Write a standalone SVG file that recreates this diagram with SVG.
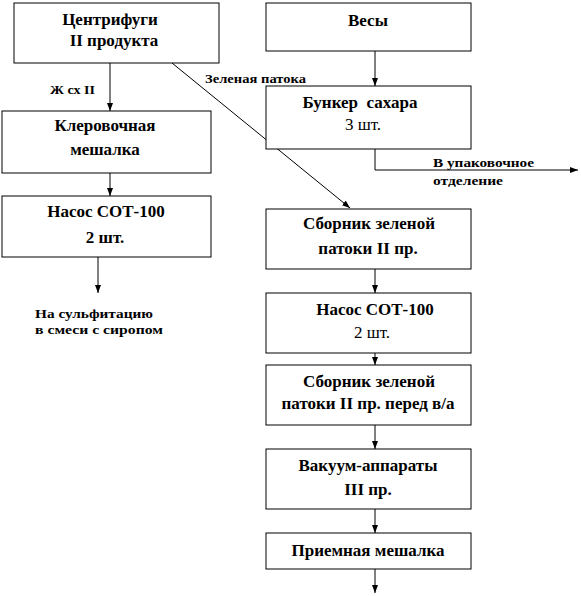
<svg xmlns="http://www.w3.org/2000/svg" width="581" height="596" viewBox="0 0 581 596">
<style>
rect.n{fill:#fff;stroke:#000;stroke-width:1}
text{font-family:"Liberation Serif","DejaVu Serif",serif;fill:#000;white-space:pre}
.b{font-size:17px;font-weight:bold;text-anchor:middle}
.r{font-size:17px;font-weight:normal;text-anchor:middle}
.s{font-size:13px;font-weight:bold}
.c line,.c polyline{stroke:#000;stroke-width:1;fill:none;marker-end:url(#ah)}
</style>
<defs>
<marker id="ah" viewBox="0 0 8 8" refX="8" refY="4" markerWidth="8" markerHeight="8" markerUnits="userSpaceOnUse" orient="auto">
<path d="M0,1 L8,4 L0,7 Z" fill="#000"/>
</marker>
</defs>
<rect width="581" height="596" fill="#fff"/>
<g class="c" id="connectors">
<line x1="110" y1="63" x2="110" y2="111"/>
<line x1="110" y1="173" x2="110" y2="196"/>
<line x1="98" y1="257" x2="98" y2="293"/>
<line x1="172" y1="63" x2="350" y2="208"/>
<line x1="375" y1="51" x2="375" y2="86"/>
<polyline points="375,149 375,170 578,170"/>
<line x1="375" y1="269" x2="375" y2="293"/>
<line x1="375" y1="353" x2="375" y2="365"/>
<line x1="375" y1="425" x2="375" y2="449"/>
<line x1="375" y1="509" x2="375" y2="533"/>
<line x1="375" y1="569" x2="375" y2="593"/>
</g>
<g id="n1"><rect class="n" x="14" y="3" width="205" height="60"/><text class="b" x="110" y="25">Центрифуги</text><text class="b" x="114" y="46">II продукта</text></g>
<g id="n2"><rect class="n" x="2" y="111" width="209" height="62"/><text class="b" x="105" y="131">Клеровочная</text><text class="b" x="105" y="155">мешалка</text></g>
<g id="n3"><rect class="n" x="2" y="196" width="209" height="61"/><text class="b" x="106" y="217">Насос СОТ-100</text><text class="b" x="105" y="243">2 шт.</text></g>
<g id="n4"><rect class="n" x="266" y="3" width="205" height="48"/><text class="b" x="368" y="26">Весы</text></g>
<g id="n5"><rect class="n" x="266" y="86" width="205" height="63"/><text class="b" x="360" y="108">Бункер  сахара</text><text class="r" x="363" y="130">3 шт.</text></g>
<g id="n6"><rect class="n" x="266" y="209" width="205" height="60"/><text class="b" x="369" y="229">Сборник зеленой</text><text class="b" x="368" y="254">патоки II пр.</text></g>
<g id="n7"><rect class="n" x="266" y="293" width="205" height="60"/><text class="b" x="375" y="315">Насос СОТ-100</text><text class="r" x="372" y="338">2 шт.</text></g>
<g id="n8"><rect class="n" x="266" y="365" width="205" height="60"/><text class="b" x="369" y="387">Сборник зеленой</text><text class="b" x="368" y="409">патоки II пр. перед в/а</text></g>
<g id="n9"><rect class="n" x="266" y="449" width="205" height="60"/><text class="b" x="368" y="471">Вакуум-аппараты</text><text class="b" x="368" y="495">III пр.</text></g>
<g id="n10"><rect class="n" x="266" y="533" width="205" height="36"/><text class="b" x="368" y="556">Приемная мешалка</text></g>
<g id="labels">
<text class="s" x="50" y="94" textLength="45" lengthAdjust="spacingAndGlyphs">Ж сх II</text>
<text class="s" x="205" y="83" textLength="101" lengthAdjust="spacingAndGlyphs">Зеленая патока</text>
<text class="s" x="433" y="167" textLength="101" lengthAdjust="spacingAndGlyphs">В упаковочное</text>
<text class="s" x="433" y="185" textLength="70" lengthAdjust="spacingAndGlyphs">отделение</text>
<text class="s" x="35" y="318" textLength="118" lengthAdjust="spacingAndGlyphs">На сульфитацию</text>
<text class="s" x="35" y="334" textLength="128" lengthAdjust="spacingAndGlyphs">в смеси с сиропом</text>
</g>
</svg>
